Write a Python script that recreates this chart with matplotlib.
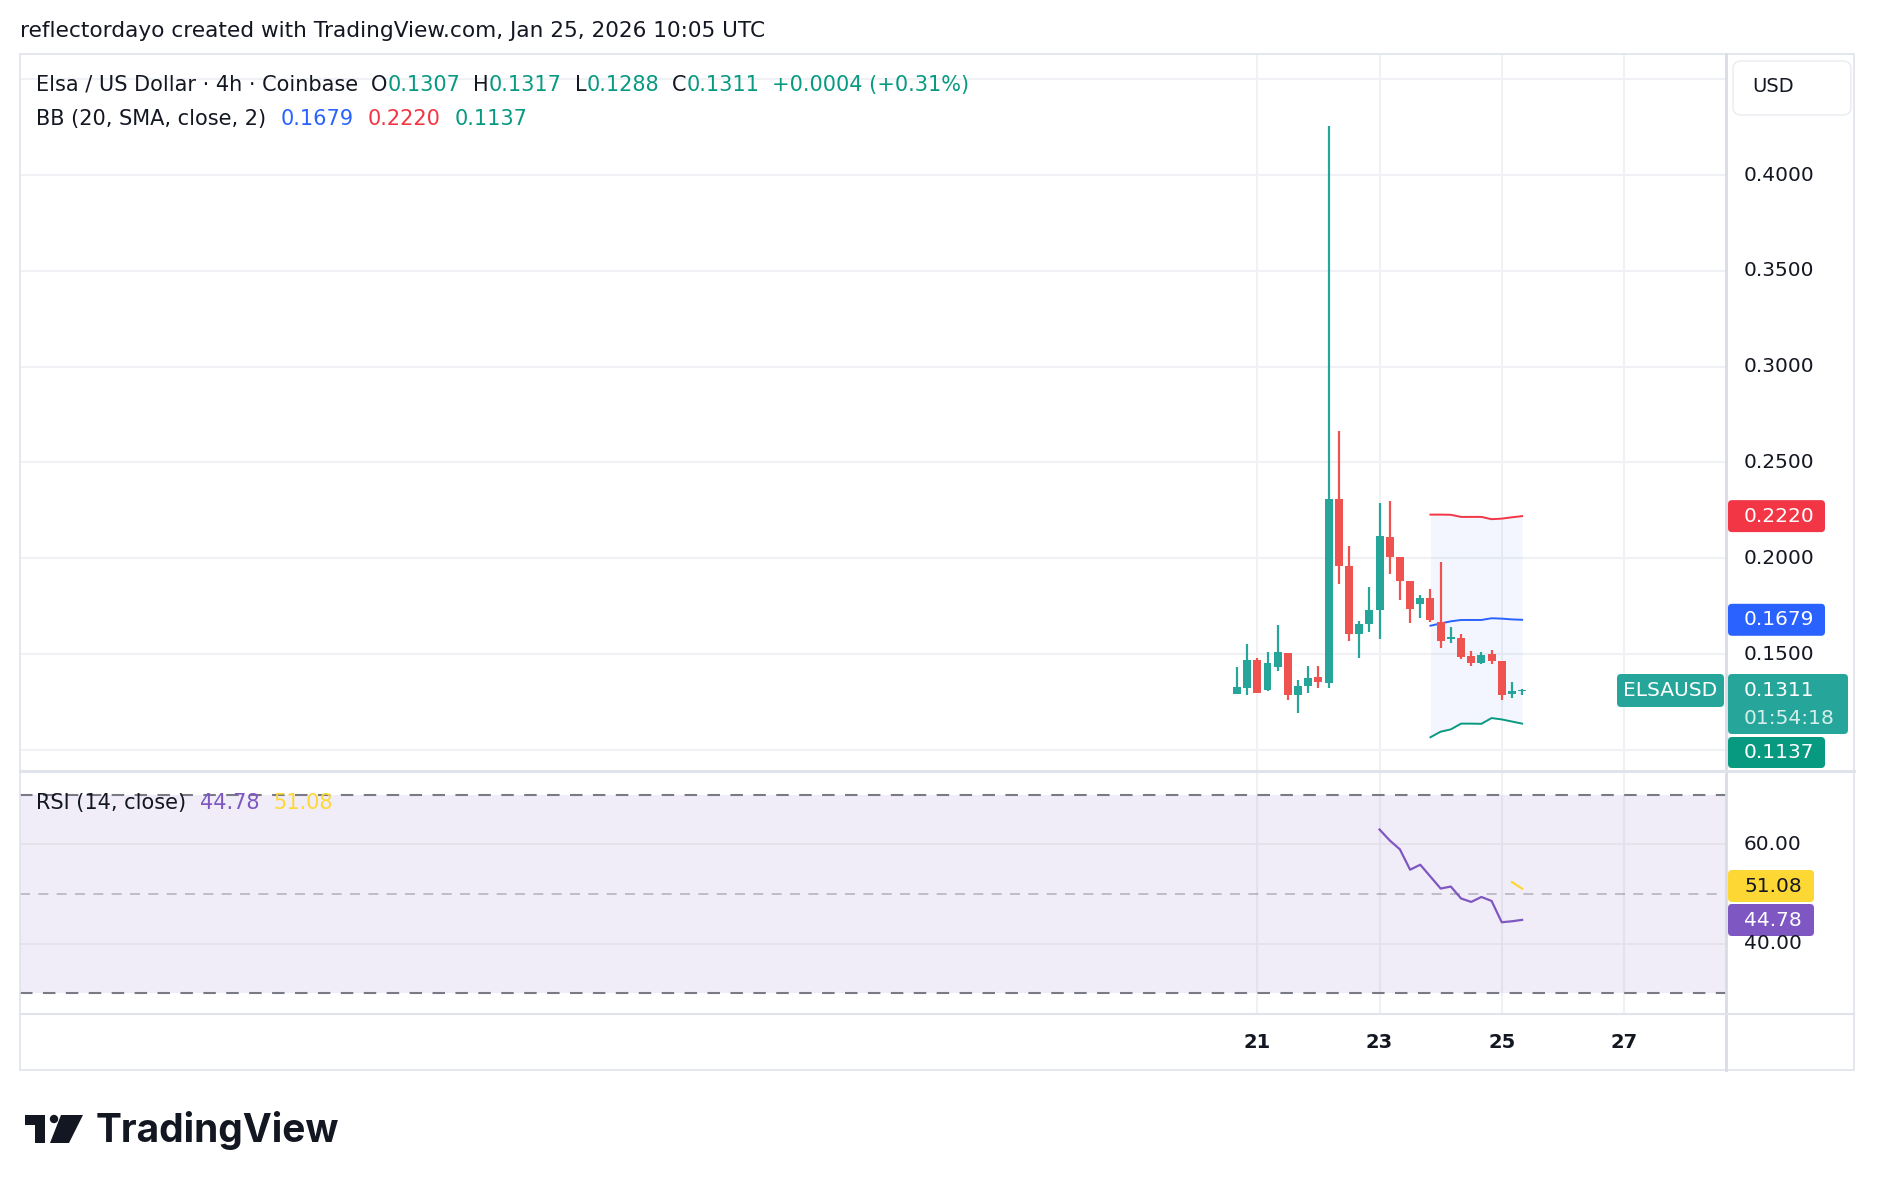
import matplotlib
matplotlib.use("Agg")
import matplotlib.pyplot as plt
import matplotlib.dates as mdates
from matplotlib.patches import FancyBboxPatch, Polygon, Circle, Rectangle
from matplotlib.transforms import IdentityTransform
from matplotlib.lines import Line2D
import pandas as pd

W, H = 1878, 1190

# 4h candles, Jan 20 16:00 -> Jan 25 08:00 (UTC)
times = pd.date_range("2026-01-20 16:00", periods=29, freq="4h")
opens = [0.1293, 0.1325, 0.1469, 0.1310, 0.1434, 0.1505, 0.1284, 0.1332, 0.1380, 0.1349,
         0.2312, 0.1961, 0.1603, 0.1657, 0.1729, 0.2113, 0.2006, 0.1883, 0.1761, 0.1794,
         0.1668, 0.1577, 0.1586, 0.1490, 0.1451, 0.1501, 0.1464, 0.1290, 0.1307]
highs = [0.1434, 0.1555, 0.1479, 0.1510, 0.1651, 0.1505, 0.1364, 0.1436, 0.1436, 0.4254,
         0.2662, 0.2065, 0.1672, 0.1848, 0.2286, 0.2297, 0.2006, 0.1883, 0.1809, 0.1840,
         0.1978, 0.1642, 0.1607, 0.1516, 0.1512, 0.1521, 0.1464, 0.1354, 0.1317]
lows = [0.1293, 0.1284, 0.1295, 0.1305, 0.1412, 0.1262, 0.1195, 0.1299, 0.1321, 0.1325,
        0.1866, 0.1570, 0.1477, 0.1614, 0.1577, 0.1918, 0.1781, 0.1662, 0.1690, 0.1666,
        0.1534, 0.1560, 0.1473, 0.1436, 0.1447, 0.1447, 0.1262, 0.1273, 0.1288]
closes = [0.1328, 0.1469, 0.1295, 0.1453, 0.1510, 0.1284, 0.1332, 0.1375, 0.1354, 0.2312,
          0.1959, 0.1603, 0.1657, 0.1731, 0.2117, 0.2006, 0.1881, 0.1735, 0.1792, 0.1679,
          0.1570, 0.1590, 0.1484, 0.1451, 0.1495, 0.1462, 0.1289, 0.1305, 0.1311]

# Bollinger bands (20, 2) - first value on candle index 19
bb_start = 19
bb_basis = [0.1648, 0.1660, 0.1671, 0.1678, 0.1678, 0.1678, 0.1687, 0.1685, 0.1681, 0.1679]
bb_upper = [0.2228, 0.2228, 0.2227, 0.2216, 0.2216, 0.2216, 0.2204, 0.2207, 0.2214, 0.2220]
bb_lower = [0.1066, 0.1095, 0.1107, 0.1137, 0.1137, 0.1136, 0.1166, 0.1159, 0.1148, 0.1137]

# RSI 14 - first value on candle index 14, MA from index 27
rsi_start = 14
rsi_vals = [63.0, 60.8, 59.0, 54.9, 55.9, 53.5, 51.1, 51.5, 49.1, 48.4, 49.4, 48.6, 44.3, 44.5, 44.78]
rsi_ma_start = 27
rsi_ma = [52.4, 51.08]

price_grid = [0.10, 0.15, 0.20, 0.25, 0.30, 0.35, 0.40, 0.45]
price_labels = [0.15, 0.20, 0.25, 0.30, 0.35, 0.40]
rsi_grid = [60, 40]
day_ticks = ["2026-01-21", "2026-01-23", "2026-01-25", "2026-01-27"]
day_labels = ["21", "23", "25", "27"]

UP, DOWN = "#26a69a", "#ef5350"
DARK = "#131722"
GRID = "#f0f1f4"
BORDER = "#e0e3eb"
FONT = "DejaVu Sans"
AXFONT = "DejaVu Sans"

fig = plt.figure(figsize=(W / 100, H / 100), dpi=100)
fig.patch.set_facecolor("white")


def px_axes(x0, y0, x1, y1):
    return fig.add_axes([x0 / W, 1 - y1 / H, (x1 - x0) / W, (y1 - y0) / H])


def box(x0, y0, x1, y1, color, r=4, z=6):
    fig.add_artist(FancyBboxPatch((x0, H - y1), x1 - x0, y1 - y0,
                                  boxstyle=f"round,pad=0,rounding_size={r}",
                                  transform=IdentityTransform(), fc=color, ec="none", zorder=z))


def ftext(x, y, s, **kw):
    kw.setdefault("va", "center")
    kw.setdefault("zorder", 7)
    return fig.text(x / W, 1 - y / H, s, **kw)


def hline(y, x0, x1, color=BORDER, lw=1.5, z=4):
    fig.add_artist(Line2D([x0 / W, x1 / W], [1 - y / H, 1 - y / H], transform=fig.transFigure,
                          color=color, lw=lw, zorder=z))


def vline(x, y0, y1, color=BORDER, lw=1.5, z=4):
    fig.add_artist(Line2D([x / W, x / W], [1 - y0 / H, 1 - y1 / H], transform=fig.transFigure,
                          color=color, lw=lw, zorder=z))


X0, X1 = 20, 1726
MAIN_T, MAIN_B = 54, 770
RSI_T, RSI_B = 772, 1014
ax = px_axes(X0, MAIN_T, X1, MAIN_B)
ax2 = px_axes(X0, RSI_T, X1, RSI_B)

d21 = mdates.date2num(pd.Timestamp("2026-01-21"))
xlim = (d21 - 20.25, d21 + 7.67)
ylim = (0.0895, 0.4632)
rlim = (25.8, 74.6)

x = mdates.date2num(times)
for a in (ax, ax2):
    a.set_xlim(*xlim)
    for s in a.spines.values():
        s.set_visible(False)
    a.set_xticks([])
    a.set_yticks([])
    for d in day_ticks:
        a.axvline(mdates.date2num(pd.Timestamp(d)), color=GRID, lw=1.5, zorder=0)
ax.set_ylim(*ylim)
ax2.set_ylim(*rlim)

for p in price_grid:
    ax.axhline(p, color=GRID, lw=1.5, zorder=0)

# Bollinger bands
bx = x[bb_start:bb_start + len(bb_basis)]
ax.fill_between(bx, bb_lower, bb_upper, color="#2962ff", alpha=0.05, lw=0, zorder=1)
ax.plot(bx, bb_upper, color="#f23645", lw=1.4, zorder=2)
ax.plot(bx, bb_basis, color="#2962ff", lw=1.4, zorder=2)
ax.plot(bx, bb_lower, color="#089981", lw=1.4, zorder=2)

# candles
cols = [UP if c >= o else DOWN for o, c in zip(opens, closes)]
ax.vlines(x, lows, highs, colors=cols, lw=1.6, zorder=3)
bottoms = [min(o, c) for o, c in zip(opens, closes)]
heights = [max(abs(c - o), 0.0004) for o, c in zip(opens, closes)]
ax.bar(x, heights, bottom=bottoms, width=0.13, color=cols, lw=0, zorder=3)

# RSI pane
ax2.axhspan(30, 70, color="#7e57c2", alpha=0.1, lw=0, zorder=0)
for r in rsi_grid:
    ax2.axhline(r, color="#e3e0ea", lw=1.2, zorder=0)
ax2.axhline(70, color="#787b86", lw=1.5, dashes=(6, 5), zorder=1)
ax2.axhline(30, color="#787b86", lw=1.5, dashes=(6, 5), zorder=1)
ax2.axhline(50, color="#787b86", lw=1.2, dashes=(6, 5), alpha=0.5, zorder=1)
ax2.plot(x[rsi_start:rsi_start + len(rsi_vals)], rsi_vals, color="#7e57c2", lw=1.6, zorder=2)
ax2.plot(x[rsi_ma_start:rsi_ma_start + len(rsi_ma)], rsi_ma, color="#fdd835", lw=1.6, zorder=2)


def py(p):
    return MAIN_T + (ylim[1] - p) / (ylim[1] - ylim[0]) * (MAIN_B - MAIN_T)


def ry(r):
    return RSI_T + (rlim[1] - r) / (rlim[1] - rlim[0]) * (RSI_B - RSI_T)


# frame and separators
fig.add_artist(Rectangle((X0 / W, 1 - 1070 / H), (1854 - X0) / W, (1070 - MAIN_T) / H,
                         transform=fig.transFigure, fill=False, ec=BORDER, lw=1.2, zorder=4))
vline(X1, MAIN_T, 1070, color="#d9dce3", lw=2)
hline(771, X0, 1854, lw=2.2)
hline(RSI_B, X0, 1854, lw=1.5)

# price axis
for p in price_labels:
    ftext(1744, py(p), f"{p:.4f}", color=DARK, fontsize=14.5, family=AXFONT)
for r in rsi_grid:
    ftext(1744, ry(r), f"{r:.2f}", color=DARK, fontsize=14.5, family=AXFONT)

# USD button
fig.add_artist(FancyBboxPatch((1733, H - 115), 118, 54, boxstyle="round,pad=0,rounding_size=8",
                              transform=IdentityTransform(), fc="white", ec="#eceef2", lw=1.2, zorder=5))
ftext(1773, 87, "USD", color=DARK, fontsize=14, family=AXFONT, ha="center")

# price tags
box(1728, py(bb_upper[-1]) - 16, 1825, py(bb_upper[-1]) + 16, "#f23645")
ftext(1744, py(bb_upper[-1]), f"{bb_upper[-1]:.4f}", color="white", fontsize=14.5, family=AXFONT)
box(1728, py(bb_basis[-1]) - 16, 1825, py(bb_basis[-1]) + 16, "#2962ff")
ftext(1744, py(bb_basis[-1]), f"{bb_basis[-1]:.4f}", color="white", fontsize=14.5, family=AXFONT)
box(1728, 674, 1848, 734, UP)
ftext(1744, 690, f"{closes[-1]:.4f}", color="white", fontsize=14.5, family=AXFONT)
ftext(1744, 718, "01:54:18", color="#d4efeb", fontsize=14.5, family=AXFONT)
box(1617, 674, 1724, 707, UP)
ftext(1670, 691, "ELSAUSD", color="white", fontsize=14.5, family=FONT, ha="center")
box(1728, 737, 1825, 768, "#089981")
ftext(1744, 753, f"{bb_lower[-1]:.4f}", color="white", fontsize=14.5, family=AXFONT)
box(1728, 870, 1814, 902, "#fdd835")
ftext(1744, 886, f"{rsi_ma[-1]:.2f}", color=DARK, fontsize=14.5, family=AXFONT)
box(1728, 904, 1814, 936, "#7e57c2")
ftext(1744, 920, f"{rsi_vals[-1]:.2f}", color="white", fontsize=14.5, family=AXFONT)

# time axis
for d, lab in zip(day_ticks, day_labels):
    xp = X0 + (mdates.date2num(pd.Timestamp(d)) - xlim[0]) / (xlim[1] - xlim[0]) * (X1 - X0)
    ftext(xp, 1042, lab, color=DARK, fontsize=14, family=AXFONT, weight="bold", ha="center")

# header + legends
ftext(20, 31, "reflectordayo created with TradingView.com, Jan 25, 2026 10:05 UTC",
      color=DARK, fontsize=15.6, family=FONT)

renderer = fig.canvas.get_renderer()


def row(x0, y, parts, size=15):
    xp = x0
    for s, color, gap in parts:
        t = ftext(xp, y, s, color=color, fontsize=size, family=FONT)
        xp += t.get_window_extent(renderer).width + gap


G = "#089981"
row(36, 85, [("Elsa / US Dollar · 4h · Coinbase", DARK, 13),
             ("O", DARK, 0), (f"{opens[-1]:.4f}", G, 13),
             ("H", DARK, 0), (f"{highs[-1]:.4f}", G, 13),
             ("L", DARK, 0), (f"{lows[-1]:.4f}", G, 13),
             ("C", DARK, 0), (f"{closes[-1]:.4f}", G, 13),
             ("+0.0004 (+0.31%)", G, 0)])
row(36, 119, [("BB (20, SMA, close, 2)", DARK, 14),
              (f"{bb_basis[-1]:.4f}", "#2962ff", 14),
              (f"{bb_upper[-1]:.4f}", "#f23645", 14),
              (f"{bb_lower[-1]:.4f}", "#089981", 0)])
row(36, 803, [("RSI (14, close)", DARK, 14),
              (f"{rsi_vals[-1]:.2f}", "#7e57c2", 14),
              (f"{rsi_ma[-1]:.2f}", "#fdd835", 0)])

# TradingView logo
LOGO = "#131722"
fig.add_artist(Rectangle((25, H - 1125), 20, 10, transform=IdentityTransform(), fc=LOGO, ec="none"))
fig.add_artist(Rectangle((35, H - 1143), 10, 28, transform=IdentityTransform(), fc=LOGO, ec="none"))
fig.add_artist(Circle((54, H - 1119), 4.2, transform=IdentityTransform(), fc=LOGO, ec="none"))
fig.add_artist(Polygon([(61, H - 1115), (83, H - 1115), (69, H - 1143), (50, H - 1143)],
                       closed=True, transform=IdentityTransform(), fc=LOGO, ec="none"))
ftext(96, 1130, "TradingView", color=LOGO, fontsize=28, family="Inter", weight="bold")

fig.savefig("out.png", dpi=100, facecolor="white")
